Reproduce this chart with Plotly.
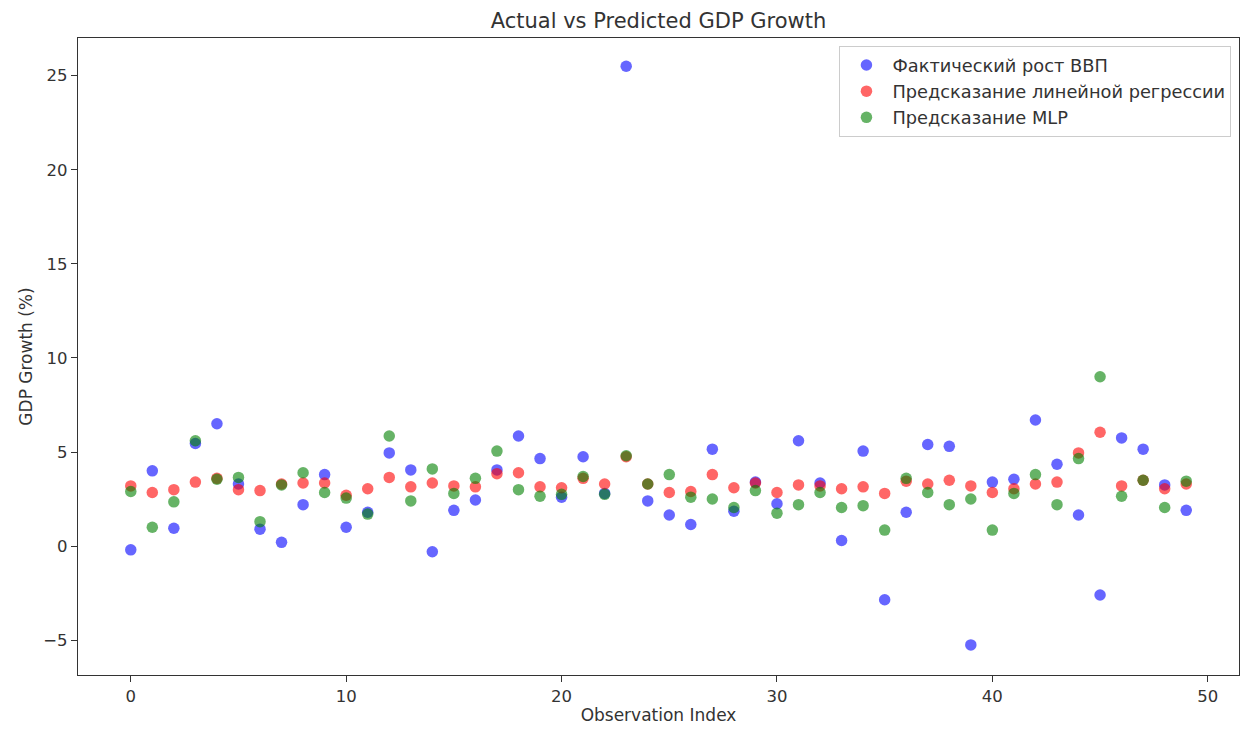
import plotly.graph_objects as go

obs_index = list(range(50))

actual_gdp = [-0.2, 4.0, 0.95, 5.45, 6.5, 3.3, 0.9, 0.2, 2.2, 3.8,
              1.0, 1.8, 4.95, 4.05, -0.3, 1.9, 2.45, 4.05, 5.85, 4.65,
              2.6, 4.75, 2.8, 25.5, 2.4, 1.65, 1.15, 5.15, 1.85, 3.4,
              2.25, 5.6, 3.35, 0.3, 5.05, -2.85, 1.8, 5.4, 5.3, -5.25,
              3.4, 3.55, 6.7, 4.35, 1.65, -2.6, 5.75, 5.15, 3.25, 1.9]

linreg_pred = [3.2, 2.85, 3.0, 3.4, 3.6, 3.0, 2.95, 3.3, 3.35, 3.35,
               2.7, 3.05, 3.65, 3.15, 3.35, 3.2, 3.15, 3.85, 3.9, 3.15,
               3.1, 3.6, 3.3, 4.75, 3.3, 2.85, 2.9, 3.8, 3.1, 3.35,
               2.85, 3.25, 3.2, 3.05, 3.15, 2.8, 3.45, 3.3, 3.5, 3.2,
               2.85, 3.05, 3.3, 3.4, 4.95, 6.05, 3.2, 3.5, 3.05, 3.3]

mlp_pred = [2.9, 1.0, 2.35, 5.6, 3.55, 3.65, 1.3, 3.25, 3.9, 2.85,
            2.55, 1.7, 5.85, 2.4, 4.1, 2.8, 3.6, 5.05, 3.0, 2.65,
            2.75, 3.7, 2.75, 4.8, 3.3, 3.8, 2.6, 2.5, 2.05, 2.95,
            1.75, 2.2, 2.85, 2.05, 2.15, 0.85, 3.6, 2.85, 2.2, 2.5,
            0.85, 2.8, 3.8, 2.2, 4.65, 9.0, 2.65, 3.5, 2.05, 3.45]

series_names = ["Фактический рост ВВП", "Предсказание линейной регрессии", "Предсказание MLP"]
series_colors = ["rgba(0,0,255,0.6)", "rgba(255,0,0,0.6)", "rgba(0,128,0,0.6)"]
x_ticks = [0, 10, 20, 30, 40, 50]
y_ticks = [-5, 0, 5, 10, 15, 20, 25]

TXT = "#333333"

fig = go.Figure()
for i, (vals, name, col) in enumerate(zip([actual_gdp, linreg_pred, mlp_pred], series_names, series_colors)):
    fig.add_trace(go.Scatter(
        x=obs_index, y=vals, mode="markers", name=name,
        legendgroup=f"g{i}",
        marker=dict(color=col, size=11.5, line=dict(width=0)),
    ))

axis_common = dict(showline=True, linecolor="#333333", linewidth=1.3, mirror=True,
                   ticks="outside", ticklen=6, tickcolor="#333333", showgrid=False,
                   zeroline=False, tickfont=dict(size=16.5, color=TXT))

fig.update_layout(
    width=1232, height=717,
    margin=dict(l=70, r=0, t=30, b=48),
    paper_bgcolor="white", plot_bgcolor="white",
    font=dict(family="DejaVu Sans", color=TXT),
    title=dict(text="Actual vs Predicted GDP Growth", x=0.5, xanchor="center",
               xref="paper", y=0.982, yanchor="middle", font=dict(size=21, color=TXT)),
    xaxis=dict(range=[-2.45, 51.45], tickvals=x_ticks,
               title=dict(text="Observation Index", font=dict(size=17, color=TXT), standoff=7), **axis_common),
    yaxis=dict(range=[-6.85, 27.0], tickvals=y_ticks,
               title=dict(text="GDP Growth (%)", font=dict(size=17, color=TXT), standoff=6), **axis_common),
    legend=dict(x=0.9935, y=0.9875, xanchor="right", yanchor="top",
                bordercolor="#cccccc", borderwidth=1, bgcolor="rgba(255,255,255,0.8)",
                font=dict(size=17.8, color=TXT), traceorder="grouped", tracegroupgap=0,
                itemwidth=42),
    showlegend=True,
)

fig.write_html("out.html")
